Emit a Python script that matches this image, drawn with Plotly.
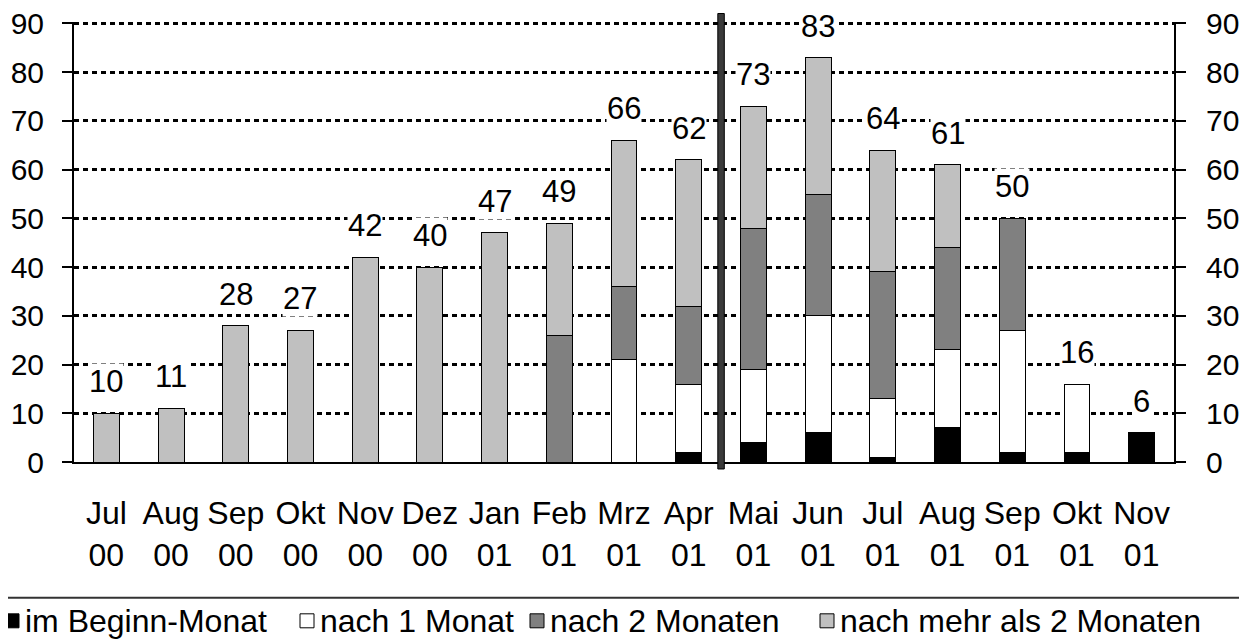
import plotly.graph_objects as go

categories = ["Jul<br>00", "Aug<br>00", "Sep<br>00", "Okt<br>00", "Nov<br>00", "Dez<br>00",
              "Jan<br>01", "Feb<br>01", "Mrz<br>01", "Apr<br>01", "Mai<br>01", "Jun<br>01",
              "Jul<br>01", "Aug<br>01", "Sep<br>01", "Okt<br>01", "Nov<br>01"]
im_beginn = [0, 0, 0, 0, 0, 0, 0, 0, 0, 2, 4, 6, 1, 7, 2, 2, 6]
nach_1 = [0, 0, 0, 0, 0, 0, 0, 0, 21, 14, 15, 24, 12, 16, 25, 14, 0]
nach_2 = [0, 0, 0, 0, 0, 0, 0, 26, 15, 16, 29, 25, 26, 21, 23, 0, 0]
nach_mehr = [10, 11, 28, 27, 42, 40, 47, 23, 30, 30, 25, 28, 25, 17, 0, 0, 0]
y_ticks = [0, 10, 20, 30, 40, 50, 60, 70, 80, 90]

series_names = ["im Beginn-Monat", "nach 1 Monat", "nach 2 Monaten", "nach mehr als 2 Monaten"]
series_vals = [im_beginn, nach_1, nach_2, nach_mehr]
series_cols = ["#000000", "#FFFFFF", "#808080", "#C0C0C0"]

FONT = "Liberation Sans, Arial, sans-serif"
OFF = 8  # page body margin offset
W, H = 1247 - OFF, 644 - OFF
YMAX = 90.3
# plot area in page pixels (reference): x 74..1174, y ~21.5..462
PL, PR, PT, PB = 74, 1174, 21.5, 462
ML, MR, MT, MB = PL - OFF, W - (PR - OFF), PT - OFF, H - (PB - OFF)
PW, PH = PR - PL, PB - PT


def px_x(px):
    return (px - PL) / PW


def px_y(py):
    return (PB - py) / PH


fig = go.Figure()
for name, vals, col in zip(series_names, series_vals, series_cols):
    fig.add_trace(go.Bar(
        x=categories, y=[v if v else None for v in vals], name=name,
        marker=dict(color=col, line=dict(color="#000000", width=1)),
        showlegend=False, hoverinfo="skip"))

# invisible trace for right axis
fig.add_trace(go.Scatter(x=categories, y=[None] * len(categories), yaxis="y2",
                         mode="lines", showlegend=False, hoverinfo="skip"))

totals = [sum(v) for v in zip(*series_vals)]
annotations = []
for c, t in zip(categories, totals):
    annotations.append(dict(x=c, y=t, text=str(t), showarrow=False, yanchor="bottom",
                            yshift=13, bgcolor="#FFFFFF", borderpad=0,
                            font=dict(family=FONT, size=31, color="#000000")))

shapes = []
# divider between Apr 01 and Mai 01
div_idx = categories.index("Mai<br>01") - 0.5
shapes.append(dict(type="rect", xref="x", yref="paper", x0=div_idx - 0.05, x1=div_idx + 0.05,
                   y0=px_y(469), y1=px_y(13), fillcolor="#3a3a3a",
                   line=dict(color="#000000", width=1), layer="above"))
# legend separator line
shapes.append(dict(type="line", xref="paper", yref="paper", x0=px_x(0), x1=px_x(1247),
                   y0=px_y(598), y1=px_y(598), line=dict(color="#333333", width=2)))

# manual legend
leg_x = [5, 300, 530, 820]
leg_y = 621
for name, col, lx in zip(series_names, series_cols, leg_x):
    shapes.append(dict(type="rect", xref="paper", yref="paper",
                       x0=px_x(lx), x1=px_x(lx + 14), y0=px_y(leg_y + 7), y1=px_y(leg_y - 7),
                       fillcolor=col, line=dict(color="#000000", width=1)))
    annotations.append(dict(x=px_x(lx + 18), y=px_y(leg_y), xref="paper", yref="paper",
                            xanchor="left", yanchor="middle", text=name, showarrow=False,
                            font=dict(family=FONT, size=32, color="#000000")))

axis_y = dict(range=[0, YMAX], tickvals=y_ticks, ticks="outside", ticklen=10, tickwidth=2,
              tickcolor="#000000", showline=True, linecolor="#000000", linewidth=2,
              tickfont=dict(family=FONT, size=30, color="#000000"), zeroline=False,
              fixedrange=True, automargin=False, ticklabeloverflow="allow")

fig.update_layout(
    width=W, height=H, margin=dict(l=ML, r=MR, t=MT, b=MB, autoexpand=False),
    paper_bgcolor="#FFFFFF", plot_bgcolor="#FFFFFF",
    barmode="stack", bargap=0.6, showlegend=False,
    xaxis=dict(type="category", range=[-0.5, len(categories) - 0.5],
               showline=True, linecolor="#000000", linewidth=2,
               showgrid=False, ticks="", ticklabelstandoff=22, automargin=False,
               tickfont=dict(family=FONT, size=32, color="#000000"), fixedrange=True),
    yaxis=dict(**axis_y, showgrid=True, gridcolor="#000000", gridwidth=3,
               griddash="5px,4px", ticklabelstandoff=12),
    yaxis2=dict(**axis_y, overlaying="y", side="right", showgrid=False, ticklabelstandoff=14),
    annotations=annotations, shapes=shapes,
)

fig.write_html("out.html")
